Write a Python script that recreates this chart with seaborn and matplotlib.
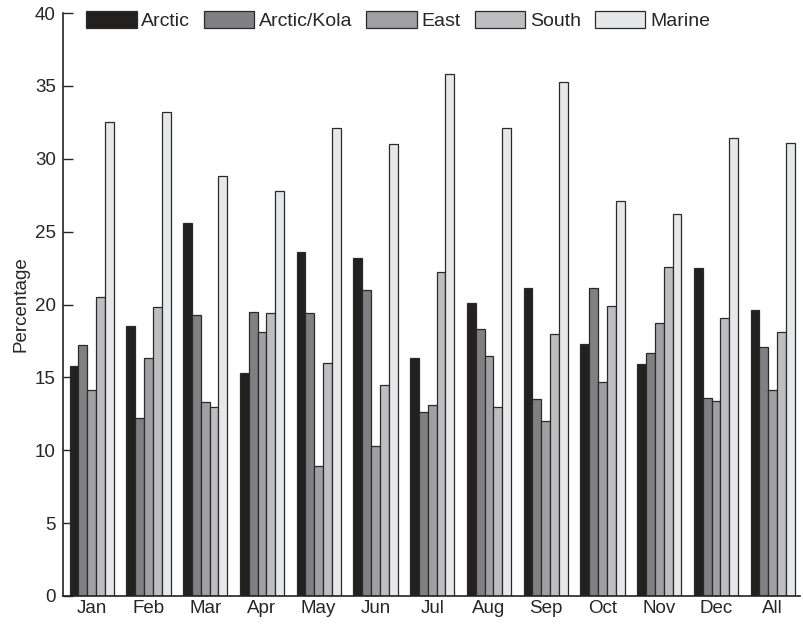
import matplotlib
matplotlib.use("Agg")
import matplotlib.pyplot as plt
import seaborn as sns
import pandas as pd

months = ["Jan", "Feb", "Mar", "Apr", "May", "Jun", "Jul", "Aug", "Sep", "Oct", "Nov", "Dec", "All"]
regions = ["Arctic", "Arctic/Kola", "East", "South", "Marine"]

arctic      = [15.8, 18.5, 25.6, 15.3, 23.6, 23.2, 16.3, 20.1, 21.1, 17.3, 15.9, 22.5, 19.6]
arctic_kola = [17.2, 12.2, 19.3, 19.5, 19.4, 21.0, 12.6, 18.3, 13.5, 21.1, 16.7, 13.6, 17.1]
east        = [14.1, 16.3, 13.3, 18.1,  8.9, 10.3, 13.1, 16.5, 12.0, 14.7, 18.7, 13.4, 14.1]
south       = [20.5, 19.8, 13.0, 19.4, 16.0, 14.5, 22.2, 13.0, 18.0, 19.9, 22.6, 19.1, 18.1]
marine      = [32.5, 33.2, 28.8, 27.8, 32.1, 31.0, 35.8, 32.1, 35.3, 27.1, 26.2, 31.4, 31.1]

colors = ["#231f20", "#7f8083", "#9fa0a3", "#bdbec1", "#e6e7e8"]

series = [arctic, arctic_kola, east, south, marine]
df = pd.DataFrame({
    "Month": [m for _ in regions for m in months],
    "Region": [r for r in regions for _ in months],
    "Percentage": [v for s in series for v in s],
})

sns.set_style("ticks")
plt.rcParams["font.family"] = ["Liberation Sans", "DejaVu Sans"]

fig = plt.figure(figsize=(8.04, 6.25), dpi=100)
ax = fig.add_axes([0.078, 0.0464, 0.917, 0.9328])

sns.barplot(data=df, x="Month", y="Percentage", hue="Region", order=months,
            hue_order=regions, palette=colors, width=0.78, edgecolor="#2a2a2a",
            linewidth=0.9, ax=ax, legend=True)

ax.set_ylim(0, 40)
ax.set_xlim(-0.51, 12.48)
ax.set_yticks(range(0, 41, 5))
ax.set_xlabel("")
ax.set_ylabel("Percentage", fontsize=13.5, labelpad=4)
ax.tick_params(axis="y", direction="in", length=7, width=1, labelsize=13.5, pad=5)
ax.tick_params(axis="x", direction="in", length=4, width=1, labelsize=13.5, pad=3)
for side in ["top", "right"]:
    ax.spines[side].set_visible(False)
for side in ["left", "bottom"]:
    ax.spines[side].set_linewidth(1.2)
    ax.spines[side].set_color("#222222")

handles, labels = ax.get_legend_handles_labels()
ax.legend(handles, labels, loc="upper left", bbox_to_anchor=(86 / 804, 1 - 11 / 625),
          bbox_transform=fig.transFigure, ncol=5, frameon=False, fontsize=14,
          handlelength=2.6, handleheight=0.95, handletextpad=0.25, columnspacing=0.7,
          borderaxespad=0, borderpad=0)

fig.savefig("out.png", dpi=100)
